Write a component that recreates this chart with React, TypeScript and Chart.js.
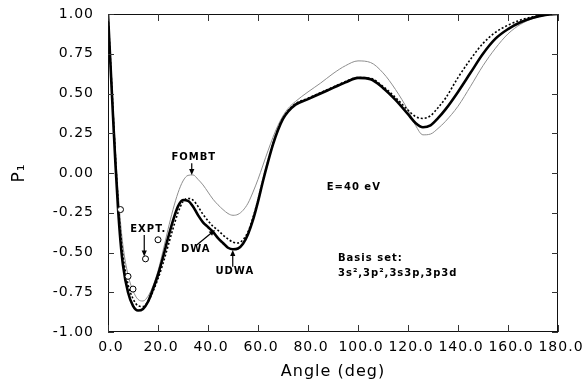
import React, { useEffect, useRef } from "react";
import { Chart, registerables } from "chart.js";
Chart.register(...registerables);

// Scattering angle grid (deg)
const angles = [
  0, 1, 2, 3, 4, 5, 6,
  8, 10, 12, 14, 16, 18, 20, 22, 24, 26, 28, 30, 32, 34, 36, 38, 40,
  42, 44, 46, 48, 50, 52, 54, 56, 58, 60, 62, 64, 66, 68, 70, 72,
  75, 80, 85, 90, 95, 100, 105, 110, 115, 120,
  123, 126, 129, 132, 135,
  140, 145, 150, 155, 160, 165, 170, 175, 180,
];

// UDWA (thick solid)
const udwa = [
  1.0, 0.68, 0.36, 0.05, -0.22, -0.43, -0.58,
  -0.75, -0.835, -0.865, -0.855, -0.81, -0.73, -0.64, -0.53, -0.41, -0.3, -0.21, -0.17, -0.175, -0.21, -0.265, -0.31, -0.34,
  -0.37, -0.41, -0.44, -0.47, -0.48, -0.475, -0.445, -0.385, -0.295, -0.18, -0.05, 0.07, 0.18, 0.27, 0.34, 0.385,
  0.43, 0.465, 0.5, 0.535, 0.57, 0.598, 0.59, 0.535, 0.46, 0.37,
  0.315, 0.288, 0.3, 0.345, 0.4,
  0.51, 0.63, 0.75, 0.845, 0.905, 0.948, 0.977, 0.994, 1.0,
];

// DWA (dotted)
const dwa = [
  1.0, 0.7, 0.39, 0.09, -0.17, -0.37, -0.52,
  -0.7, -0.79, -0.835, -0.84, -0.81, -0.745, -0.665, -0.57, -0.46, -0.35, -0.25, -0.18, -0.16, -0.17, -0.21, -0.26, -0.3,
  -0.335, -0.36, -0.39, -0.415, -0.435, -0.44, -0.42, -0.37, -0.28, -0.17, -0.045, 0.075, 0.185, 0.275, 0.345, 0.39,
  0.435, 0.47, 0.505, 0.54, 0.575, 0.6, 0.595, 0.545, 0.475, 0.395,
  0.355, 0.343, 0.36, 0.41, 0.47,
  0.6, 0.715, 0.815, 0.885, 0.93, 0.962, 0.983, 0.995, 1.0,
];

// FOMBT (thin grey)
const fombt = [
  1.0, 0.72, 0.43, 0.14, -0.11, -0.31, -0.46,
  -0.64, -0.74, -0.795, -0.805, -0.775, -0.71, -0.615, -0.49, -0.355, -0.23, -0.125, -0.05, -0.015, -0.012, -0.04, -0.075, -0.12,
  -0.165, -0.2, -0.23, -0.255, -0.266, -0.26, -0.235, -0.19, -0.12, -0.04, 0.05, 0.14, 0.225, 0.3, 0.36, 0.405,
  0.45, 0.51, 0.565, 0.625, 0.675, 0.705, 0.695, 0.63, 0.525, 0.395,
  0.3, 0.24, 0.245, 0.28, 0.325,
  0.42, 0.545, 0.675, 0.785, 0.875, 0.935, 0.972, 0.992, 1.0,
];

// Experimental points
const exptAngles = [5, 8, 10, 15, 20];
const exptValues = [-0.23, -0.65, -0.73, -0.54, -0.42];

// Tick values
const xTickValues = [0, 20, 40, 60, 80, 100, 120, 140, 160, 180];
const yTickValues = [-1, -0.75, -0.5, -0.25, 0, 0.25, 0.5, 0.75, 1];

// Annotations (data coordinates)
const labelTexts = ["FOMBT", "EXPT.", "DWA", "UDWA"];
const labelX = [34.3, 16.1, 35.1, 50.7];
const labelY = [0.099, -0.352, -0.48, -0.62];
const arrowFrom = [[33.5, 0.061], [14.5, -0.39], [35.5, -0.453], [49.9, -0.589]];
const arrowTo = [[33.5, -0.013], [14.5, -0.525], [42.8, -0.358], [49.9, -0.485]];
const noteTexts = ["E=40 eV", "Basis set:", "3s²,3p²,3s3p,3p3d"];
const noteX = [87.5, 92, 92];
const noteY = [-0.092, -0.535, -0.63];

const FONT = '"DejaVu Sans", Verdana, sans-serif';

const decor = {
  id: "decor",
  beforeLayout(chart: any) {
    chart.ctx.letterSpacing = "1px";
  },
  beforeDraw(chart: any) {
    chart.ctx.letterSpacing = "1px";
  },
  afterDraw(chart: any) {
    const ctx = chart.ctx as CanvasRenderingContext2D;
    const { left, right, top, bottom } = chart.chartArea;
    const xs = chart.scales.x;
    const ys = chart.scales.y;
    ctx.save();
    ctx.strokeStyle = "#111";
    ctx.lineWidth = 1;
    ctx.strokeRect(left + 0.5, top + 0.5, right - left - 1, bottom - top - 1);
    ctx.strokeStyle = "#333";
    ctx.beginPath();
    xTickValues.forEach((v) => {
      const px = Math.round(xs.getPixelForValue(v)) + 0.5;
      ctx.moveTo(px, bottom);
      ctx.lineTo(px, bottom - 7);
      ctx.moveTo(px, top);
      ctx.lineTo(px, top + 7);
    });
    yTickValues.forEach((v) => {
      const py = Math.round(ys.getPixelForValue(v)) + 0.5;
      ctx.moveTo(left, py);
      ctx.lineTo(left + 6, py);
      ctx.moveTo(right, py);
      ctx.lineTo(right - 6, py);
    });
    ctx.stroke();

    // arrows
    ctx.strokeStyle = "#000";
    ctx.fillStyle = "#000";
    ctx.lineWidth = 1.2;
    arrowFrom.forEach((f, i) => {
      const x1 = xs.getPixelForValue(f[0]);
      const y1 = ys.getPixelForValue(f[1]);
      const x2 = xs.getPixelForValue(arrowTo[i][0]);
      const y2 = ys.getPixelForValue(arrowTo[i][1]);
      const ang = Math.atan2(y2 - y1, x2 - x1);
      const hl = 6;
      const hw = 2.6;
      ctx.beginPath();
      ctx.moveTo(x1, y1);
      ctx.lineTo(x2 - Math.cos(ang) * hl * 0.6, y2 - Math.sin(ang) * hl * 0.6);
      ctx.stroke();
      ctx.beginPath();
      ctx.moveTo(x2, y2);
      ctx.lineTo(
        x2 - Math.cos(ang) * hl - Math.sin(ang) * hw,
        y2 - Math.sin(ang) * hl + Math.cos(ang) * hw
      );
      ctx.lineTo(
        x2 - Math.cos(ang) * hl + Math.sin(ang) * hw,
        y2 - Math.sin(ang) * hl - Math.cos(ang) * hw
      );
      ctx.closePath();
      ctx.fill();
    });

    ctx.letterSpacing = "1px";
    ctx.font = `bold 10px ${FONT}`;
    ctx.textBaseline = "middle";
    ctx.textAlign = "center";
    labelTexts.forEach((t, i) => {
      ctx.fillText(t, xs.getPixelForValue(labelX[i]), ys.getPixelForValue(labelY[i]));
    });
    ctx.textAlign = "left";
    noteTexts.forEach((t, i) => {
      ctx.fillText(t, xs.getPixelForValue(noteX[i]), ys.getPixelForValue(noteY[i]));
    });
    ctx.restore();
  },
};

export default function App() {
  const ref = useRef<HTMLCanvasElement>(null);
  useEffect(() => {
    const canvas = ref.current!;
    const toPts = (vals: number[]) => angles.map((a, i) => ({ x: a, y: vals[i] }));
    Chart.defaults.font.family = FONT;
    Chart.defaults.color = "#000";
    const chart = new Chart(canvas, {
      type: "scatter",
      data: {
        datasets: [
          {
            label: "EXPT.",
            data: exptAngles.map((a, i) => ({ x: a, y: exptValues[i] })),
            showLine: false,
            pointRadius: 3,
            pointBorderWidth: 1,
            pointBorderColor: "#000",
            pointBackgroundColor: "#fff",
            order: 0,
          },
          {
            label: "UDWA",
            data: toPts(udwa),
            showLine: true,
            borderColor: "#000",
            borderWidth: 2.6,
            pointRadius: 0,
            cubicInterpolationMode: "monotone",
            order: 1,
          },
          {
            label: "DWA",
            data: toPts(dwa),
            showLine: true,
            borderColor: "#000",
            borderWidth: 1.6,
            borderDash: [2, 2],
            pointRadius: 0,
            cubicInterpolationMode: "monotone",
            order: 2,
          },
          {
            label: "FOMBT",
            data: toPts(fombt),
            showLine: true,
            borderColor: "#8e8e8e",
            borderWidth: 1,
            pointRadius: 0,
            cubicInterpolationMode: "monotone",
            order: 3,
          },
        ] as any,
      },
      options: {
        animation: false,
        responsive: true,
        maintainAspectRatio: false,
        layout: { autoPadding: false, padding: { top: 14, right: 27, left: 0, bottom: 0 } },
        plugins: { legend: { display: false }, tooltip: { enabled: false } },
        scales: {
          x: {
            type: "linear",
            min: 0,
            max: 180,
            afterBuildTicks: (s: any) => {
              s.ticks = xTickValues.map((v) => ({ value: v }));
            },
            afterFit: (s: any) => {
              s.height = 51;
              s.paddingLeft = 0;
              s.paddingRight = 0;
            },
            grid: { display: false, drawTicks: false },
            border: { display: false },
            ticks: {
              padding: 7,
              labelOffset: 3,
              maxRotation: 0,
              autoSkip: false,
              font: { size: 14, family: FONT },
              callback: (v: any) => Number(v).toFixed(1),
            },
            title: {
              display: true,
              text: "Angle (deg)",
              font: { size: 16, family: FONT },
              padding: { top: 0, bottom: 2 },
            },
          },
          y: {
            type: "linear",
            min: -1,
            max: 1,
            afterBuildTicks: (s: any) => {
              s.ticks = yTickValues.map((v) => ({ value: v }));
            },
            afterFit: (s: any) => {
              s.width = 108;
              s.paddingTop = 0;
              s.paddingBottom = 0;
            },
            grid: { display: false, drawTicks: false },
            border: { display: false },
            ticks: {
              padding: 14,
              autoSkip: false,
              font: { size: 14, family: FONT },
              callback: (v: any) => Number(v).toFixed(2),
            },
            title: {
              display: true,
              text: "P₁",
              font: { size: 17, family: FONT },
              padding: { top: 9, bottom: 0 },
            },
          },
        },
      },
      plugins: [decor],
    });
    return () => chart.destroy();
  }, []);
  return (
    <div style={{ position: "fixed", left: 0, top: 0, width: 585, height: 383, background: "#fff" }}>
      <canvas ref={ref} />
    </div>
  );
}
